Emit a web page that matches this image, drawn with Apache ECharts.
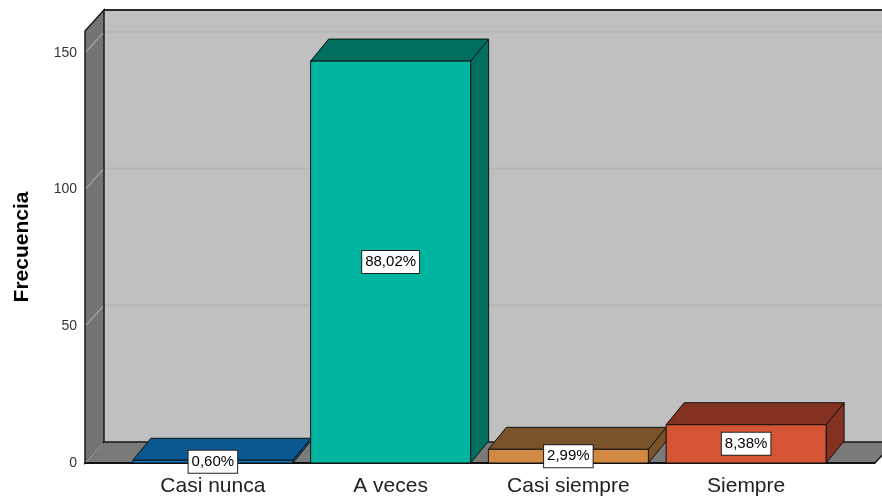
<!DOCTYPE html>
<html><head><meta charset="utf-8">
<script src="https://cdn.jsdelivr.net/npm/echarts@6/dist/echarts.min.js"></script>
<style>html,body{margin:0;padding:0;background:#fff}#c{width:882px;height:500px}</style>
</head><body><div id="c"></div>
<script>
const categories = ['Casi nunca', 'A veces', 'Casi siempre', 'Siempre'];
const frequencies = [1, 147, 5, 14];
const percentLabels = ['0,60%', '88,02%', '2,99%', '8,38%'];
const yTicks = [0, 50, 100, 150];
const yMax = 158;

const frontColors = ['#1a78c2', '#00b5a0', '#d28a42', '#d45433'];
const shadeColors = ['#0b5891', '#006f60', '#7a5229', '#833120'];

const DX = 19, DY = -21;   // wall depth
const BDX = 18, BDY = -22; // bar depth
const LEFT_EXT = 39, RIGHT_EXT = 40;

const chart = echarts.init(document.getElementById('c'), null, {renderer: 'canvas'});

function wallRender(params, api) {
  const cs = params.coordSys;
  const x0 = cs.x - LEFT_EXT, x1 = cs.x + cs.width + RIGHT_EXT;
  const yb = api.coord([0, 0])[1];
  const yt = cs.y;
  const ch = [];
  ch.push({type: 'rect', shape: {x: x0 + DX, y: yt + DY, width: x1 - x0 + 60, height: yb - yt}, style: {fill: '#c0c0c0'}});
  yTicks.forEach(v => {
    const y = api.coord([0, v])[1];
    ch.push({type: 'line', shape: {x1: x0 + DX, y1: y + DY, x2: x1 + DX + 60, y2: y + DY}, style: {stroke: '#b5b5b5', lineWidth: 2}});
  });
  ch.push({type: 'line', shape: {x1: x0 + DX, y1: yt + DY, x2: x1 + DX + 60, y2: yt + DY}, style: {stroke: '#2a2a2a', lineWidth: 2}});
  ch.push({type: 'polygon', shape: {points: [[x0, yb], [x0, yt], [x0 + DX, yt + DY], [x0 + DX, yb + DY]]},
    style: {fill: '#747474', stroke: '#1a1a1a', lineWidth: 1.5}});
  ch.push({type: 'polygon', shape: {points: [[x0, yb], [x1, yb], [x1 + DX, yb + DY], [x0 + DX, yb + DY]]},
    style: {fill: '#7a7a7a', stroke: '#1a1a1a', lineWidth: 1.5}});
  ch.push({type: 'line', shape: {x1: x0, y1: yb, x2: x1, y2: yb}, style: {stroke: '#111', lineWidth: 2}});
  yTicks.forEach(v => {
    const y = api.coord([0, v])[1];
    ch.push({type: 'line', shape: {x1: x0 + 1, y1: y - 1, x2: x0 + DX - 1, y2: y + DY + 1}, style: {stroke: '#a6a6a6', lineWidth: 1.2}});
  });
  return {type: 'group', children: ch};
}

function barRender(params, api) {
  const i = api.value(0), v = api.value(1);
  const top = api.coord([i, v]);
  const base = api.coord([i, 0]);
  const w = api.size([1, 0])[0] * 0.9;
  const xl = top[0] - w / 2, xr = top[0] + w / 2, yt = top[1], yb = base[1];
  const stroke = {stroke: '#111', lineWidth: 1};
  return {type: 'group', children: [
    {type: 'polygon', shape: {points: [[xr, yt], [xr, yb], [xr + BDX, yb + BDY], [xr + BDX, yt + BDY]]},
      style: Object.assign({fill: shadeColors[i]}, stroke)},
    {type: 'polygon', shape: {points: [[xl, yt], [xr, yt], [xr + BDX, yt + BDY], [xl + BDX, yt + BDY]]},
      style: Object.assign({fill: shadeColors[i]}, stroke)},
    {type: 'rect', shape: {x: xl, y: yt, width: w, height: yb - yt},
      style: Object.assign({fill: frontColors[i]}, stroke)},
    {type: 'text', z2: 100, x: top[0], y: (yt + yb) / 2,
      style: {text: percentLabels[i], align: 'center', verticalAlign: 'middle',
        font: '15px "Liberation Sans", Arial, sans-serif', fill: '#000',
        backgroundColor: '#fff', borderColor: '#222', borderWidth: 1, padding: [4, 3, 3, 3]}}
  ]};
}

chart.setOption({
  animation: false,
  grid: {left: 124, right: 47, top: 31, bottom: 37, outerBoundsMode: 'none', containLabel: false},
  xAxis: {
    type: 'category', data: categories,
    axisLine: {show: false}, axisTick: {show: false},
    axisLabel: {fontSize: 21, color: '#222', margin: 13, fontFamily: '"Liberation Sans", Arial, sans-serif'}
  },
  yAxis: {
    type: 'value', min: 0, max: yMax, interval: 50, offset: LEFT_EXT,
    axisLine: {show: false}, axisTick: {show: false}, splitLine: {show: false},
    axisLabel: {fontSize: 14, color: '#333', margin: 8, showMaxLabel: false,
      fontFamily: '"Liberation Sans", Arial, sans-serif',
      formatter: v => (yTicks.indexOf(v) >= 0 ? String(v) : '')},
    name: 'Frecuencia', nameLocation: 'middle', nameRotate: 90, nameGap: 52,
    nameTextStyle: {fontSize: 21, fontWeight: 'bold', color: '#000', fontFamily: '"Liberation Sans", Arial, sans-serif'}
  },
  series: [
    {type: 'custom', renderItem: wallRender, data: [[0, 0]], z: 1, clip: false, silent: true},
    {type: 'custom', renderItem: barRender, z: 2, clip: false,
      data: categories.map((c, i) => [i, frequencies[i]])}
  ]
});
</script></body></html>
